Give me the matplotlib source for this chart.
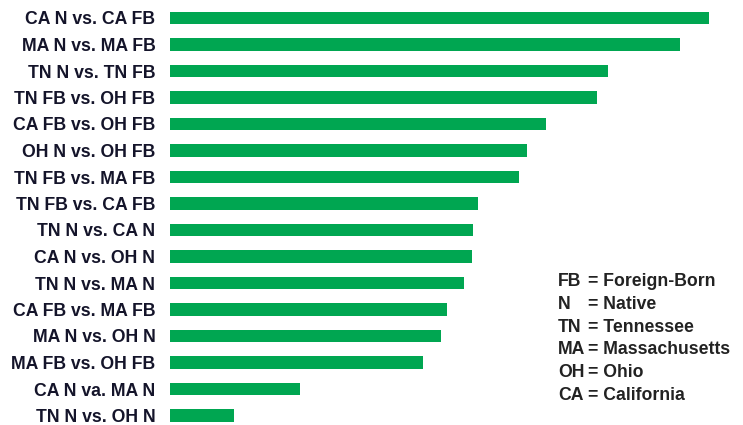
import matplotlib.pyplot as plt

# comparison labels, top to bottom
labels = [
    "CA N vs. CA FB", "MA N vs. MA FB", "TN N vs. TN FB", "TN FB vs. OH FB",
    "CA FB vs. OH FB", "OH N vs. OH FB", "TN FB vs. MA FB", "TN FB vs. CA FB",
    "TN N vs. CA N", "CA N vs. OH N", "TN N vs. MA N", "CA FB vs. MA FB",
    "MA N vs. OH N", "MA FB vs. OH FB", "CA N va. MA N", "TN N vs. OH N",
]
# bar lengths (no axis shown, arbitrary units)
values = [539, 510, 438, 427, 376, 357, 349, 308, 303, 302, 294, 277, 271, 253, 130, 64]

key_abbr = ["FB", "N", "TN", "MA", "OH", "CA"]
key_text = ["= Foreign-Born", "= Native", "= Tennessee", "= Massachusetts", "= Ohio", "= California"]

GREEN = "#00a651"
NAVY = "#14142a"
FONT = ["Liberation Sans", "DejaVu Sans"]

W, H = 743, 425
fig = plt.figure(figsize=(W / 100, H / 100), dpi=100)
ax = fig.add_axes([170 / W, 0, (W - 170) / W, 1])

ypos = list(range(len(labels)))
ax.barh(ypos, values, height=0.49, color=GREEN)

step = 26.5
top = 18.0
ax.set_xlim(0, W - 170)
ax.set_ylim((H - top) / step, -top / step)

ax.set_yticks(ypos)
ax.set_yticklabels(labels, fontsize=12.7, fontweight="bold", color=NAVY, family=FONT)
ax.tick_params(axis="y", length=0, pad=10.5)
ax.set_xticks([])
for s in ax.spines.values():
    s.set_visible(False)

# abbreviation key
for i, (a, t) in enumerate(zip(key_abbr, key_text)):
    y = 1 - (282 + i * 22.6) / H
    fig.text(558 / W, y, a, fontsize=12.7, fontweight="bold", color="#222222",
             family=FONT, va="center", ha="left")
    fig.text(588 / W, y, t, fontsize=12.7, fontweight="bold", color="#222222",
             family=FONT, va="center", ha="left")

fig.savefig("out.png", dpi=100)
